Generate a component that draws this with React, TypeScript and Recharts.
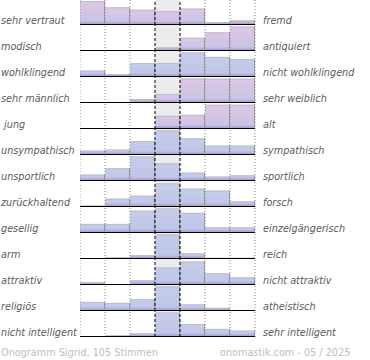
import React from 'react';
import { BarChart, Bar, XAxis, YAxis, ReferenceLine, ReferenceArea } from 'recharts';

const bins = ['1', '2', '3', '4', '5', '6', '7'];

const leftLabels = [
  'sehr vertraut', 'modisch', 'wohlklingend', 'sehr männlich', ' jung', 'unsympathisch',
  'unsportlich', 'zurückhaltend', 'gesellig', 'arm', 'attraktiv', 'religiös', 'nicht intelligent',
];
const rightLabels = [
  'fremd', 'antiquiert', 'nicht wohlklingend', 'sehr weiblich', 'alt', 'sympathisch',
  'sportlich', 'forsch', 'einzelgängerisch', 'reich', 'nicht attraktiv', 'atheistisch', 'sehr intelligent',
];

const vertrautFremd = [98, 72, 62, 56, 67, 12, 19];
const modischAntiquiert = [0, 0, 0, 15, 54, 76, 100];
const wohlklingend = [26, 12, 57, 57, 100, 82, 73];
const maennlichWeiblich = [0, 2, 16, 37, 100, 99, 99];
const jungAlt = [0, 0, 2, 54, 58, 99, 99];
const sympathisch = [18, 22, 57, 100, 68, 38, 38];
const sportlich = [26, 52, 100, 72, 34, 18, 23];
const zurueckhaltendForsch = [6, 34, 46, 96, 75, 67, 23];
const geselligEinzelgaenger = [37, 37, 91, 100, 82, 23, 23];
const armReich = [0, 7, 16, 100, 23, 5, 5];
const attraktiv = [11, 0, 19, 71, 96, 48, 31];
const religioesAtheistisch = [37, 33, 48, 100, 27, 13, 0];
const intelligent = [0, 7, 15, 100, 53, 33, 26];

const rowValues = [
  vertrautFremd, modischAntiquiert, wohlklingend, maennlichWeiblich, jungAlt, sympathisch,
  sportlich, zurueckhaltendForsch, geselligEinzelgaenger, armReich, attraktiv,
  religioesAtheistisch, intelligent,
];

const footerLeft = 'Onogramm Sigrid, 105 Stimmen';
const footerRight = 'onomastik.com - 05 / 2025';

// style
const PINK_ROWS = [0, 1, 3, 4];
const ROW_PITCH = 26;
const FONT = '"DejaVu Sans", Verdana, sans-serif';
const FS = 9.7;

const dottedEdges: { bin: string; pos: 'start' | 'end' }[] = [
  { bin: '1', pos: 'start' },
  { bin: '2', pos: 'start' },
  { bin: '3', pos: 'start' },
  { bin: '6', pos: 'start' },
  { bin: '7', pos: 'start' },
  { bin: '7', pos: 'end' },
];
const dashedEdges: { bin: string; pos: 'start' | 'end' }[] = [
  { bin: '4', pos: 'start' },
  { bin: '4', pos: 'end' },
];

function makeShape(gid: string) {
  return (props: any) => {
    const { x, y, width, height } = props;
    if (!height || height <= 0) return <g />;
    const band = Math.min(4, height);
    return (
      <g>
        <rect x={x} y={y} width={width} height={height} fill={`url(#${gid}-main)`} />
        <rect x={x} y={y + height - band} width={width} height={band} fill={`url(#${gid}-band)`} />
        <line x1={x} x2={x + width} y1={y + 0.5} y2={y + 0.5} stroke="#bcbccc" strokeWidth={1} />
        <line x1={x + width - 0.5} x2={x + width - 0.5} y1={y} y2={y + height} stroke="#9a9a9a" strokeWidth={1} />
      </g>
    );
  };
}

function Row({ index, values }: { index: number; values: number[] }) {
  const data = bins.map((b, i) => ({ bin: b, value: values[i] }));
  const pink = PINK_ROWS.includes(index);
  const gid = `row${index}`;
  return (
    <BarChart
      width={176}
      height={ROW_PITCH}
      data={data}
      margin={{ top: 0, right: 1, bottom: 0, left: 0 }}
      barCategoryGap={0}
      barGap={0}
    >
      <defs>
        <linearGradient id={`${gid}-main`} x1="0" y1="0" x2="0" y2="1">
          {pink ? (
            <>
              <stop offset="0%" stopColor="#dfc6e6" />
              <stop offset="70%" stopColor="#cdc4e4" />
              <stop offset="100%" stopColor="#c3c3e3" />
            </>
          ) : (
            <>
              <stop offset="0%" stopColor="#c6cdea" />
              <stop offset="100%" stopColor="#bec4e6" />
            </>
          )}
        </linearGradient>
        <linearGradient id={`${gid}-band`} x1="0" y1="0" x2="0" y2="1">
          <stop offset="0%" stopColor="#9c8cc8" stopOpacity={0} />
          <stop offset="100%" stopColor="#9484c0" stopOpacity={0.85} />
        </linearGradient>
      </defs>
      <XAxis dataKey="bin" hide />
      <YAxis hide type="number" domain={[0, 106]} allowDataOverflow />
      <ReferenceArea x1="4" x2="4" y1={0} y2={106} fill="#ececec" fillOpacity={1} stroke="none" />
      <Bar dataKey="value" isAnimationActive={false} shape={makeShape(gid)} />
      {dottedEdges.map((e, k) => (
        <ReferenceLine key={`d${k}`} x={e.bin} position={e.pos} stroke="#8a8a8a" strokeDasharray="1 2" />
      ))}
      {dashedEdges.map((e, k) => (
        <ReferenceLine key={`c${k}`} x={e.bin} position={e.pos} stroke="#000" strokeDasharray="3 2" />
      ))}
      <ReferenceLine y={0} stroke="#000" strokeWidth={2} />
    </BarChart>
  );
}

export default function App() {
  return (
    <div style={{ position: 'absolute', left: 0, top: 0, width: 370, height: 360, background: '#fff', overflow: 'hidden' }}>
      {rowValues.map((vals, i) => (
        <div key={i} style={{ position: 'absolute', left: 80, top: ROW_PITCH * i - 1 }}>
          <Row index={i} values={vals} />
        </div>
      ))}
      <svg width={370} height={360} style={{ position: 'absolute', left: 0, top: 0, pointerEvents: 'none' }}>
        {leftLabels.map((t, i) => (
          <text key={`l${i}`} x={1} y={ROW_PITCH * i + 24} fontFamily={FONT} fontSize={FS} fontStyle="italic" fill="#5c5c5c" style={{ whiteSpace: 'pre' }}>
            {t}
          </text>
        ))}
        {rightLabels.map((t, i) => (
          <text key={`r${i}`} x={263} y={ROW_PITCH * i + 24} fontFamily={FONT} fontSize={FS} fontStyle="italic" fill="#5c5c5c">
            {t}
          </text>
        ))}
        <text x={1} y={356} fontFamily={FONT} fontSize={FS} fill="#bdbdbd">{footerLeft}</text>
        <text x={220} y={356} fontFamily={FONT} fontSize={FS} fill="#bdbdbd">{footerRight}</text>
      </svg>
    </div>
  );
}
